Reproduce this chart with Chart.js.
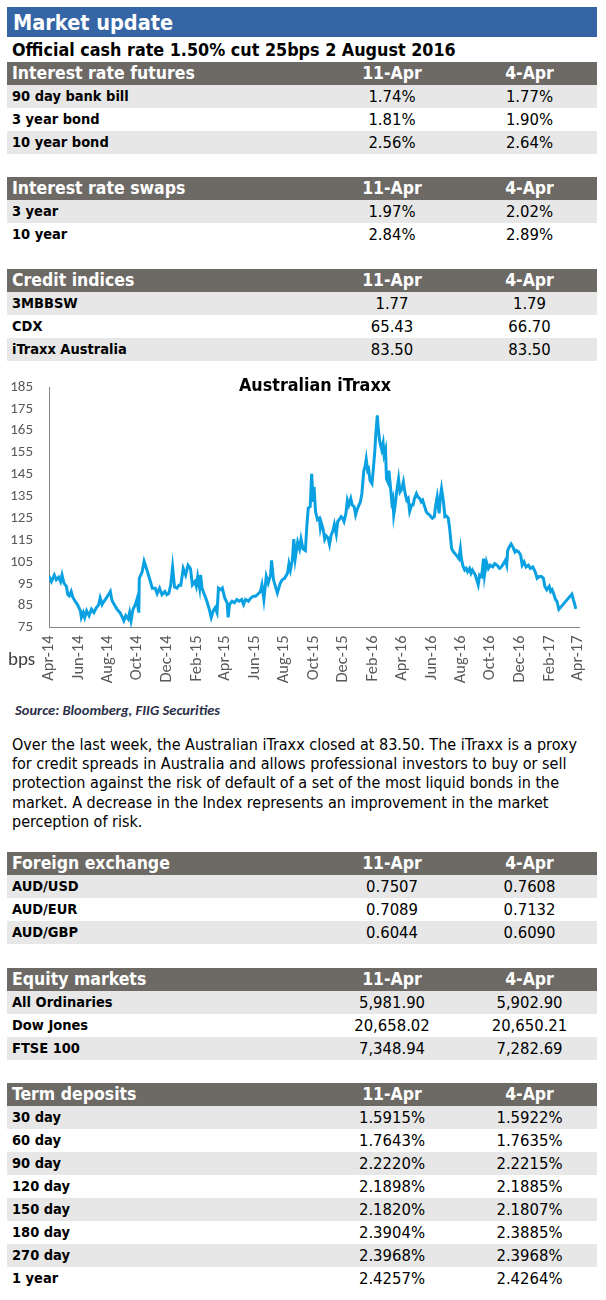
<!DOCTYPE html>
<html>
<head>
<meta charset="utf-8">
<title>Market update</title>
<script src="https://cdn.jsdelivr.net/npm/chart.js@4.4.1/dist/chart.umd.min.js"></script>
<style>
  body { margin: 0; background: #fff; font-family: "DejaVu Sans Condensed", "DejaVu Sans", sans-serif; font-stretch: condensed; color: #000; }
  #page { position: relative; width: 606px; height: 1300px; overflow: hidden; }

  .bar-title { position: absolute; left: 7px; top: 7px; width: 590px; height: 30px; box-sizing: border-box;
               padding-left: 6px; background: #3565a5; color: #fff; font-weight: bold; font-size: 21.5px; line-height: 31px; }
  .sub       { position: absolute; left: 12px; top: 37px; height: 25px; line-height: 25px; font-weight: bold; font-size: 17.8px; white-space: nowrap; }

  table.mkt  { position: absolute; left: 7px; width: 590px; border-collapse: collapse; table-layout: fixed; }
  table.mkt th, table.mkt td { height: 23px; padding: 0; line-height: 23px; white-space: nowrap; text-align: center; }
  table.mkt th { background: #6d6a66; color: #fff; font-size: 17.5px; font-weight: bold; }
  table.mkt td { font-size: 16.5px; }
  table.mkt .lbl { text-align: left; padding-left: 5px; }
  table.mkt td.lbl { font-weight: bold; font-size: 14.5px; }
  table.mkt tr.alt td { background: #e7e7e7; }

  #chart-wrap { position: absolute; left: 0; top: 362px; width: 606px; height: 333px; }
  .chart-title { position: absolute; left: 0; width: 630px; top: 374px; text-align: center;
                 font-weight: bold; font-size: 17.8px; }
  .bps    { position: absolute; left: 8px; top: 647px; font-family: Carlito, Lato, sans-serif; font-size: 19px; color: #404040; }
  .source { position: absolute; left: 15px; top: 701px; font-family: Carlito, Lato, sans-serif; font-style: italic; font-weight: bold;
            font-size: 14.5px; color: #2b2f48; white-space: nowrap; }
  .para   { position: absolute; left: 12px; top: 735px; font-size: 16px; line-height: 19.2px; white-space: nowrap; }
</style>
</head>
<body>
<div id="page">
  <div class="bar-title">Market update</div>
  <div class="sub">Official cash rate 1.50% cut 25bps 2 August 2016</div>

  <table class="mkt" id="tbl-futures" style="top:62px"></table>
  <table class="mkt" id="tbl-swaps"   style="top:177px"></table>
  <table class="mkt" id="tbl-credit"  style="top:269px"></table>

  <div id="chart-wrap"><canvas id="chart-itraxx" width="606" height="333"></canvas></div>
  <div class="chart-title">Australian iTraxx</div>
  <div class="bps">bps</div>
  <div class="source">Source: Bloomberg, FIIG Securities</div>

  <div class="para">
    Over the last week, the Australian iTraxx closed at 83.50. The iTraxx is a proxy<br>
    for credit spreads in Australia and allows professional investors to buy or sell<br>
    protection against the risk of default of a set of the most liquid bonds in the<br>
    market. A decrease in the Index represents an improvement in the market<br>
    perception of risk.
  </div>

  <table class="mkt" id="tbl-fx"     style="top:852px"></table>
  <table class="mkt" id="tbl-equity" style="top:968px"></table>
  <table class="mkt" id="tbl-term"   style="top:1083px"></table>
</div>

<script>
// ── Table data ────────────────────────────────────────────────────────────
const DATES = ['11-Apr', '4-Apr'];

const FUTURES_LABELS = ['90 day bank bill', '3 year bond', '10 year bond'];
const FUTURES_NOW    = ['1.74%', '1.81%', '2.56%'];
const FUTURES_PREV   = ['1.77%', '1.90%', '2.64%'];

const SWAPS_LABELS = ['3 year', '10 year'];
const SWAPS_NOW    = ['1.97%', '2.84%'];
const SWAPS_PREV   = ['2.02%', '2.89%'];

const CREDIT_LABELS = ['3MBBSW', 'CDX', 'iTraxx Australia'];
const CREDIT_NOW    = ['1.77', '65.43', '83.50'];
const CREDIT_PREV   = ['1.79', '66.70', '83.50'];

const FX_LABELS = ['AUD/USD', 'AUD/EUR', 'AUD/GBP'];
const FX_NOW    = ['0.7507', '0.7089', '0.6044'];
const FX_PREV   = ['0.7608', '0.7132', '0.6090'];

const EQUITY_LABELS = ['All Ordinaries', 'Dow Jones', 'FTSE 100'];
const EQUITY_NOW    = ['5,981.90', '20,658.02', '7,348.94'];
const EQUITY_PREV   = ['5,902.90', '20,650.21', '7,282.69'];

const TERM_LABELS = ['30 day', '60 day', '90 day', '120 day', '150 day', '180 day', '270 day', '1 year'];
const TERM_NOW    = ['1.5915%', '1.7643%', '2.2220%', '2.1898%', '2.1820%', '2.3904%', '2.3968%', '2.4257%'];
const TERM_PREV   = ['1.5922%', '1.7635%', '2.2215%', '2.1885%', '2.1807%', '2.3885%', '2.3968%', '2.4264%'];

// ── Chart data (days since 1-Apr-2014, spread in bps) ─────────────────────
const TICK_DAYS   = [0, 61, 122, 183, 244, 306, 365, 426, 487, 548, 609, 671, 731, 792, 853, 914, 975, 1037, 1096];
const TICK_LABELS = ['Apr-14', 'Jun-14', 'Aug-14', 'Oct-14', 'Dec-14', 'Feb-15', 'Apr-15', 'Jun-15', 'Aug-15', 'Oct-15',
                     'Dec-15', 'Feb-16', 'Apr-16', 'Jun-16', 'Aug-16', 'Oct-16', 'Dec-16', 'Feb-17', 'Apr-17'];

const ITRAXX_DAYS = [
  0, 5, 11, 15, 20, 24, 27, 31, 36, 39, 42, 46, 49, 54, 59, 65, 67, 71, 74, 78, 83, 88, 93, 98, 103,
  106, 110, 114, 119, 123, 127, 130, 133, 137, 141, 147, 152, 155, 159, 164, 167, 170, 174, 179, 182,
  186, 187, 193, 197, 202, 206, 211, 214, 220, 224, 229, 234, 240, 244, 248, 252, 256, 260, 265, 269, 273,
  278, 283, 288, 293, 297, 302, 305, 308, 312, 314, 317, 322, 327, 332, 336, 340, 344, 348, 351, 356,
  359, 364, 369, 371, 374, 379, 384, 389, 394, 399, 403, 407, 413, 418, 423, 428, 433, 438, 441, 445,
  450, 454, 459, 461, 465, 470, 473, 479, 483, 488, 494, 497, 500, 504, 507, 510, 515, 519, 522, 526,
  531, 534, 537, 541, 544,
  547, 549, 552, 556, 560, 562, 564, 568, 571, 574, 578, 581, 584, 588, 591, 595, 598, 601, 605, 608,
  611, 615, 618, 621, 625, 628, 632, 635, 638, 642, 645, 648, 652, 655, 657, 660, 662, 665, 669, 672,
  675, 677, 680, 682, 685, 689, 692, 694, 697, 699, 702, 704, 707, 710, 712, 714, 717, 720, 724, 727,
  731, 734, 737, 741, 744, 747, 751, 754, 757, 761, 764, 768, 771, 774, 778, 781, 784, 788, 791, 794,
  798, 801, 804, 808, 811, 813, 817, 820,
  823, 827, 830, 834, 838, 844, 849, 852, 854, 857, 861, 864, 867, 871, 874, 877, 883, 885, 889, 892,
  896, 900, 902, 906, 910, 914, 919, 923, 928, 933, 937, 941, 945, 948, 950, 953, 957, 961, 965, 968,
  973, 977, 980, 984, 988, 993, 997, 1002, 1007, 1011, 1015, 1020, 1024, 1027, 1031, 1036, 1039, 1042,
  1046, 1049, 1052, 1056, 1083, 1086, 1089, 1091,
];

const ITRAXX_BPS = [
  98.5, 96, 99, 96.8, 98, 96, 99, 95.3, 93.8, 90, 89.5, 91.5, 89, 87, 85.5, 82.6, 79.6, 81.8, 79.6, 82.6, 80.4, 83.4, 81.8, 84, 85.5,
  88.5, 85.5, 87, 88.5, 90, 91.5, 87.8, 86.3, 84.8, 83.3, 81.8, 79.6, 78.1, 80.4, 78.9, 81.8, 78.1, 83.3, 85.5, 87.8,
  81.8, 97.5, 100.5, 105.3, 101.9, 99, 95.3, 93, 93, 90.5, 93, 90, 91.5, 90, 90.5, 94.3, 102.7, 93.5, 93, 94.3, 94.3,
  102, 99, 103.5, 102, 94.5, 96, 93.8, 98.3, 93, 99, 93, 90, 87, 83.3, 79.6, 82.6, 84, 81.8, 93, 92.3,
  93, 88.5, 86.3, 79.6, 85.5, 87, 86.3, 87.8, 87, 87.8, 85.5, 87.8, 87, 88.5, 89.3, 89.3, 90.3, 91.5, 94.5, 87.8,
  98.3, 95.3, 99, 105.7, 96.8, 93, 90.8, 95.3, 96.8, 97.5, 99.8, 104.2, 101.2, 105.7, 115.4, 106.5, 114, 111, 115.4, 111,
  110.2, 121.4, 129.6, 130.3, 145.3,
  132.5, 139.3, 128.1, 124.3, 125, 120.6, 122.8, 119.8, 115.4, 117, 116, 113.1, 117, 119.2, 122.1, 117.7, 123.5, 124.3, 125.7, 125,
  123.5, 127.2, 133.2, 131, 134, 131, 130.3, 126.5, 128.8, 131, 132.5, 136.2, 146.7, 149, 152, 146.7, 147.4, 142.2, 140.8, 148.1,
  156.4, 163.8, 172, 165.9, 160, 156.4, 159.4, 154, 156.4, 143, 141.5, 146.7, 140, 132.5, 134, 126.5, 131, 137, 143, 137,
  138.5, 141.5, 137, 133.2, 134, 128.1, 131, 131, 134, 136.2, 134.7, 134, 132.5, 133.2, 130.3, 128.1, 127.2, 126.5, 125.7, 125,
  125.7, 131, 134.7, 127.2, 135.5, 138.5, 132.5, 125.7,
  126, 125, 119.9, 111, 109.5, 108, 106.5, 111, 106.5, 103.5, 101.3, 102, 100.5, 102, 99.8, 101.3, 99, 97.5, 94.5, 99,
  98.3, 106.5, 99, 105, 102, 103.5, 102.7, 104.2, 103.5, 102, 102.7, 104.2, 105.7, 103.5, 110.2, 111.7, 113.2, 111.7, 109.5, 110.2,
  109.5, 108, 103.5, 105, 102.7, 103.5, 102, 102.7, 100.5, 97.5, 98.3, 98.3, 97.5, 93.8, 92.3, 93.8, 91.5, 92.3,
  90, 87.8, 87, 83.3, 90.3, 87.8, 85.5, 83.5,
];

// ── Tables ────────────────────────────────────────────────────────────────

function _table(id, title, labels, now, prev) {
  const head = `<colgroup><col style="width:315px"><col style="width:140px"><col style="width:135px"></colgroup>
    <tr><th class="lbl">${title}</th><th>${DATES[0]}</th><th>${DATES[1]}</th></tr>`;
  const rows = labels.map((l, i) => `
    <tr class="${i % 2 === 0 ? 'alt' : ''}">
      <td class="lbl">${l}</td><td>${now[i]}</td><td>${prev[i]}</td>
    </tr>`).join('');
  document.getElementById(id).innerHTML = head + rows;
}

_table('tbl-futures', 'Interest rate futures', FUTURES_LABELS, FUTURES_NOW, FUTURES_PREV);
_table('tbl-swaps',   'Interest rate swaps',   SWAPS_LABELS,   SWAPS_NOW,   SWAPS_PREV);
_table('tbl-credit',  'Credit indices',        CREDIT_LABELS,  CREDIT_NOW,  CREDIT_PREV);
_table('tbl-fx',      'Foreign exchange',      FX_LABELS,      FX_NOW,      FX_PREV);
_table('tbl-equity',  'Equity markets',        EQUITY_LABELS,  EQUITY_NOW,  EQUITY_PREV);
_table('tbl-term',    'Term deposits',         TERM_LABELS,    TERM_NOW,    TERM_PREV);

// ── iTraxx line chart ─────────────────────────────────────────────────────

const _AXIS  = '#868686';
const _TICKS = '#595959';
const _FONT  = 'Carlito, Lato, sans-serif';

new Chart(document.getElementById('chart-itraxx').getContext('2d'), {
  type: 'line',
  data: {
    datasets: [{
      label: 'Australian iTraxx',
      data: ITRAXX_DAYS.map((d, i) => ({ x: d, y: ITRAXX_BPS[i] })),
      borderColor: '#0aa1e2',
      borderWidth: 3,
      pointRadius: 0,
      tension: 0,
      fill: false,
    }],
  },
  options: {
    responsive: false,
    animation: false,
    layout: { padding: { top: 19, right: 13, left: 0, bottom: 0 } },
    plugins: { legend: { display: false }, tooltip: { enabled: false } },
    scales: {
      x: {
        type: 'linear',
        min: 0,
        max: 1099,
        grid:   { display: false, drawTicks: false },
        border: { display: true, color: _AXIS, width: 1 },
        afterBuildTicks: scale => { scale.ticks = TICK_DAYS.map(v => ({ value: v })); },
        afterFit: scale => { scale.height = 67.5; },
        ticks: {
          autoSkip: false,
          minRotation: 90,
          maxRotation: 90,
          padding: 8,
          color: _TICKS,
          font: { family: _FONT, size: 16.5 },
          callback: (v, i) => TICK_LABELS[i],
        },
      },
      y: {
        min: 75,
        max: 185,
        grid:   { display: false, drawTicks: false },
        border: { display: true, color: _AXIS, width: 1 },
        afterFit: scale => { scale.width = 49; },
        ticks: {
          stepSize: 10,
          padding: 16,
          color: _TICKS,
          font: { family: _FONT, size: 15 },
        },
      },
    },
  },
});
</script>
</body>
</html>
